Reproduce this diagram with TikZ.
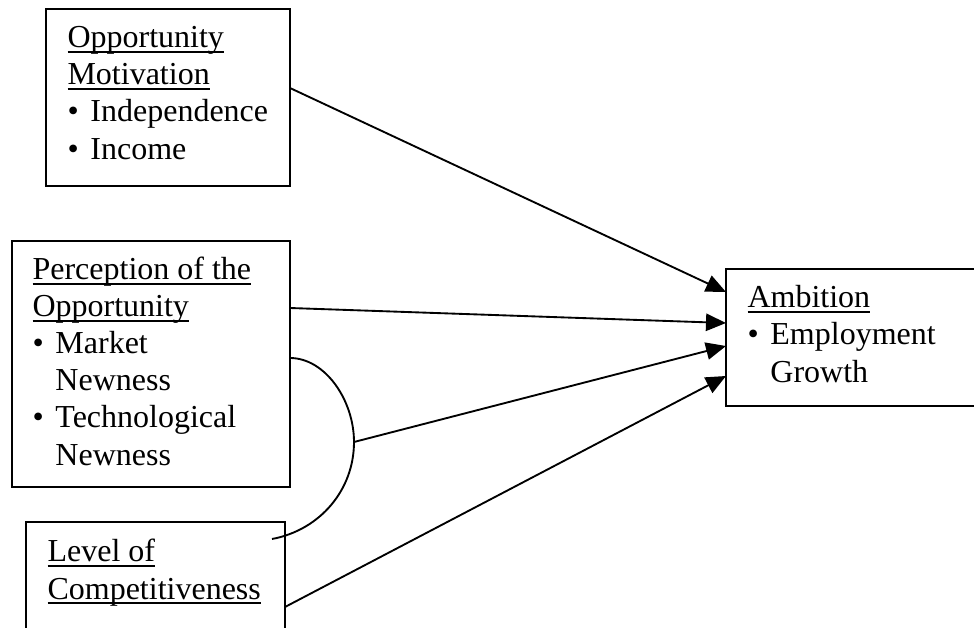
\documentclass[tikz,border=0pt]{standalone}
\usepackage{fontspec}
\setmainfont{Liberation Serif}
\usetikzlibrary{arrows.meta,calc}

\newcommand{\pxu}{0.375pt}
\newcommand{\ulin}[1]{\setbox0\hbox{#1}\rlap{\vrule width\wd0 height -1.2pt depth 1.95pt}\box0}
\newcommand{\itm}{\makebox[8.6pt][l]{•}}
\newcommand{\cont}{\hspace*{8.6pt}}

\begin{document}
\begin{tikzpicture}[
    x = 0.375pt, y = -0.375pt,
    box/.style = {draw, line width=0.8pt, inner sep=0pt, outer sep=0pt, anchor=north west},
    txt/.style = {inner sep=0pt, anchor=base west, align=left,
                  font=\fontsize{12}{13.9}\selectfont},
    link/.style = {line width=0.7pt},
    arrow/.style = {link, -{Triangle[length=7.5pt, width=6.5pt]}}]

\useasboundingbox (0,0) rectangle (974,628);

\node[box, minimum width=244*\pxu, minimum height=177*\pxu] (motiv) at (46,9) {};
\node[box, minimum width=278*\pxu, minimum height=246*\pxu] (percep) at (12,241) {};
\node[box, minimum width=259*\pxu, minimum height=118*\pxu] (compet) at (26,522) {};
\node[box, minimum width=254*\pxu, minimum height=137*\pxu] (ambit) at (726,269) {};

\node[txt] (motivtxt) at ($(motiv.north west)+(21,150)$)
    {\ulin{Opportunity}\\ \ulin{Motivation}\\ \itm Independence\\ \itm Income};
\node[txt] (perceptxt) at ($(percep.north west)+(20,224)$)
    {\ulin{Perception of the}\\ \ulin{Opportunity}\\ \itm Market\\ \cont Newness\\
     \itm Technological\\ \cont Newness};
\node[txt] (compettxt) at ($(compet.north west)+(21,77)$)
    {\ulin{Level of}\\ \ulin{Competitiveness}};
\node[txt] (ambittxt) at ($(ambit.north west)+(21,113)$)
    {\ulin{Ambition}\\ \itm Employment\\ \cont Growth};

\draw[link] ($(percep.north east)+(0,117)$) .. controls (325,358) and (354,400) ..
      (354,442) coordinate (junct) .. controls (354,490) and (320,530) ..
      ($(compet.north west)+(246,17)$);

\draw[arrow] ($(motiv.north east)+(0,79)$) to ($(ambit.north west)+(0,23)$);
\draw[arrow] ($(percep.north east)+(0,67)$) to ($(ambit.north west)+(0,54)$);
\draw[arrow] (junct) to ($(ambit.north west)+(0,77)$);
\draw[arrow] ($(compet.north east)+(0,85)$) to ($(ambit.north west)+(0,107)$);
\end{tikzpicture}
\end{document}
